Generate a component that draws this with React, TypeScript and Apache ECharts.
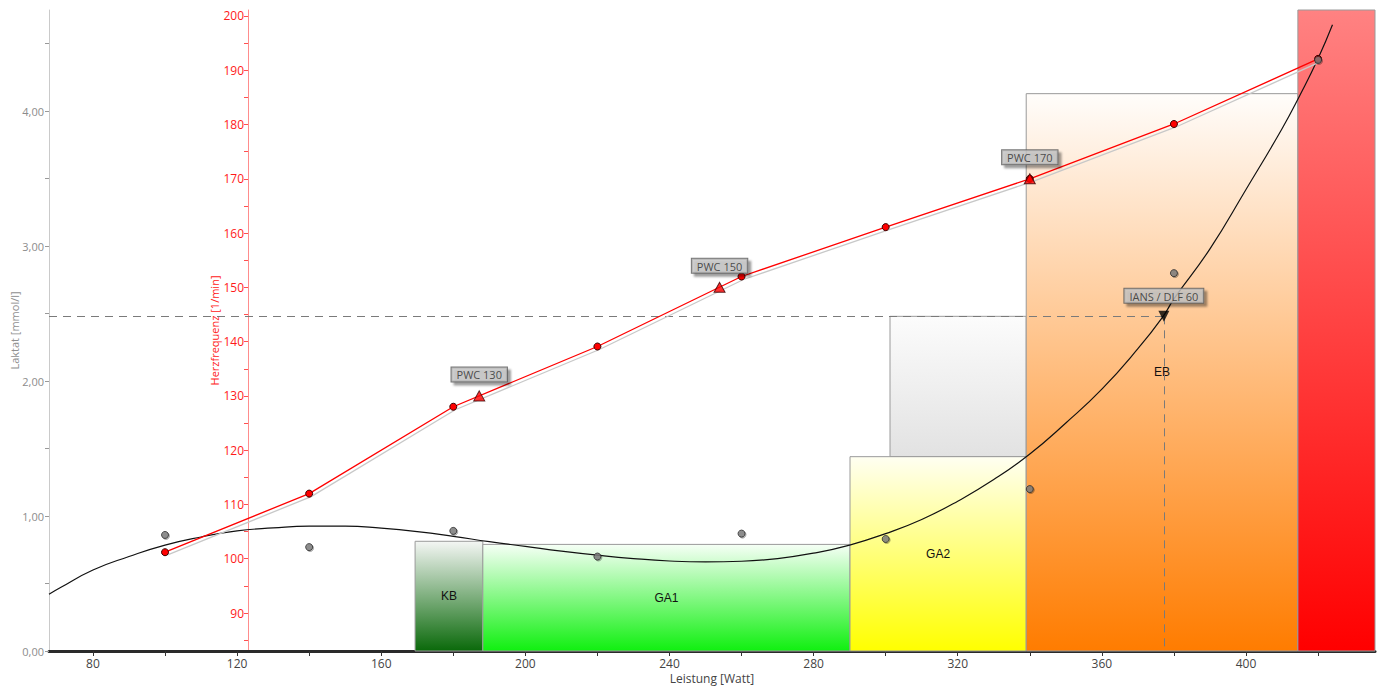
import React, { useEffect, useRef } from "react";
import * as echarts from "echarts";

// ---- data ----
const W_MIN = 67.8;
const W_MAX = 435.8;
const LACT_MAX = 4.75;
const HR_MIN = 83;
const HR_MAX = 201.1;

const xTickValues = [80, 100, 120, 140, 160, 180, 200, 220, 240, 260, 280, 300, 320, 340, 360, 380, 400, 420];
const xLabelValues = [80, 120, 160, 200, 240, 280, 320, 360, 400];
const lactTickValues = [0, 0.5, 1, 1.5, 2, 2.5, 3, 3.5, 4, 4.5];
const lactLabelValues = [0, 1, 2, 3, 4];
const hrTickValues = [85, 90, 95, 100, 105, 110, 115, 120, 125, 130, 135, 140, 145, 150, 155, 160, 165, 170, 175, 180, 185, 190, 195, 200];
const hrLabelValues = [90, 100, 110, 120, 130, 140, 150, 160, 170, 180, 190, 200];

const stepWatt = [100, 140, 180, 220, 260, 300, 340, 380, 420];
const heartRate = [101.2, 112.0, 128.0, 139.1, 152.0, 161.1, 170.0, 180.1, 192.1];
const lactateMeasured = [0.86, 0.77, 0.89, 0.7, 0.87, 0.83, 1.2, 2.8, 4.38];

const lactateCurveWatt = [67.8, 71, 80, 90, 100, 110, 120, 130, 140, 150, 160, 170, 180, 190, 200, 210, 220, 230, 240, 250, 260, 270, 280, 290, 300, 310, 320, 330, 340, 350, 360, 370, 377, 380, 390, 400, 410, 415, 420, 424];
const lactateCurveValues = [0.42, 0.47, 0.6, 0.7, 0.785, 0.845, 0.89, 0.912, 0.925, 0.925, 0.91, 0.885, 0.85, 0.81, 0.775, 0.74, 0.71, 0.685, 0.667, 0.66, 0.665, 0.685, 0.725, 0.785, 0.87, 0.975, 1.11, 1.27, 1.46, 1.69, 1.94, 2.24, 2.48, 2.61, 2.98, 3.42, 3.87, 4.12, 4.39, 4.64];

const pwcWatt = [187.2, 253.9, 340];
const pwcHeartRate = [130, 150, 170];
const pwcLabels = ["PWC 130", "PWC 150", "PWC 170"];

const iansWatt = 377.2;
const iansLactate = 2.48;
const iansLabel = "IANS / DLF 60";

const zoneNames = ["KB", "GA1", "", "GA2", "EB", ""];
const zoneStart = [169.4, 188.2, 301.2, 290.1, 339.0, 414.4];
const zoneEnd = [188.2, 290.1, 339.0, 339.0, 414.4, W_MAX];
const zoneBottom = [0, 0, 1.44, 0, 0, 0];
const zoneTop = [0.813, 0.79, 2.48, 1.44, 4.13, LACT_MAX];
const zoneTopColor = ["#f4f6f4", "#f6fff6", "#fcfcfc", "#fffff2", "#fffdfb", "#ff8282"];
const zoneBottomColor = ["#0a690a", "#10f010", "#e2e2e2", "#ffff00", "#ff7c00", "#ff0000"];

const AXIS_FONT = "'Open Sans', 'Noto Sans', sans-serif";
const ZONE_FONT = "'Liberation Sans', Arial, sans-serif";

export default function App() {
  const ref = useRef<HTMLDivElement>(null);

  useEffect(() => {
    if (!ref.current) return;
    const chart = echarts.init(ref.current, undefined, { renderer: "svg" });

    const zoneData = zoneNames.map((name, i) => [
      {
        name,
        xAxis: zoneStart[i],
        yAxis: zoneBottom[i],
        itemStyle: {
          opacity: 1,
          color: new echarts.graphic.LinearGradient(0, 0, 0, 1, [
            { offset: 0, color: zoneTopColor[i] },
            { offset: 1, color: zoneBottomColor[i] },
          ]),
          borderColor: "#9a9a9a",
          borderWidth: 1,
        },
      },
      { xAxis: zoneEnd[i], yAxis: zoneTop[i] },
    ]);

    const boxLabel = {
      show: true,
      position: "top",
      distance: 9,
      color: "#2a2a2a",
      fontSize: 11,
      fontFamily: AXIS_FONT,
      backgroundColor: "#c6c6c6",
      borderColor: "#555555",
      borderWidth: 1,
      padding: [2, 5, 1, 5],
      shadowColor: "rgba(0,0,0,0.45)",
      shadowOffsetX: 3,
      shadowOffsetY: 3,
      shadowBlur: 2,
    };

    chart.setOption({
      animation: false,
      grid: { left: 49, right: 5, top: 10, bottom: 37, containLabel: false, outerBoundsMode: "none" },
      xAxis: {
        type: "value",
        min: W_MIN,
        max: W_MAX,
        name: "Leistung [Watt]",
        nameLocation: "middle",
        nameGap: 21,
        nameMoveOverlap: false,
        nameTextStyle: { color: "#444", fontSize: 12, fontFamily: AXIS_FONT },
        axisLine: { show: true, onZero: false, lineStyle: { color: "#2a2a2a", width: 3 } },
        axisTick: { show: true, customValues: xTickValues, length: 5, lineStyle: { color: "#333" } },
        axisLabel: {
          customValues: xLabelValues,
          color: "#444",
          fontSize: 12,
          fontFamily: AXIS_FONT,
          margin: 6,
        },
        splitLine: { show: false },
      },
      yAxis: [
        {
          type: "value",
          min: 0,
          max: LACT_MAX,
          position: "left",
          name: "Laktat [mmol/l]",
          nameLocation: "middle",
          nameGap: 29,
          nameMoveOverlap: false,
          nameTextStyle: { color: "#909090", fontSize: 11, fontFamily: AXIS_FONT },
          axisLine: { show: true, lineStyle: { color: "#cacaca", width: 1 } },
          axisTick: { show: true, customValues: lactTickValues, length: 4, lineStyle: { color: "#999" } },
          axisLabel: {
            customValues: lactLabelValues,
            color: "#8c8c8c",
            fontSize: 11,
            fontFamily: AXIS_FONT,
            margin: 5,
            formatter: (v: number) => v.toFixed(2).replace(".", ","),
          },
          splitLine: { show: false },
        },
        {
          type: "value",
          min: HR_MIN,
          max: HR_MAX,
          position: "left",
          offset: -199,
          name: "Herzfrequenz [1/min]",
          nameLocation: "middle",
          nameGap: 28,
          nameMoveOverlap: false,
          nameTextStyle: { color: "#ff2020", fontSize: 11, fontFamily: AXIS_FONT },
          axisLine: { show: true, lineStyle: { color: "#ff8c8c", width: 1 } },
          axisTick: { show: true, customValues: hrTickValues, length: 4, lineStyle: { color: "#ff5050" } },
          axisLabel: {
            customValues: hrLabelValues,
            color: "#ff1a1a",
            fontSize: 12,
            fontFamily: AXIS_FONT,
            margin: 4,
          },
          splitLine: { show: false },
        },
      ],
      series: [
        {
          name: "zones",
          type: "line",
          xAxisIndex: 0,
          yAxisIndex: 0,
          data: [],
          z: 1,
          silent: true,
          markArea: {
            silent: true,
            z: 1,
            label: {
              show: true,
              position: "inside",
              color: "#111",
              fontSize: 12,
              fontFamily: ZONE_FONT,
            },
            data: zoneData,
          },
        },
        {
          name: "Laktatkurve",
          type: "line",
          xAxisIndex: 0,
          yAxisIndex: 0,
          smooth: true,
          symbol: "none",
          z: 3,
          lineStyle: { color: "#111", width: 1.2 },
          data: lactateCurveWatt.map((w, i) => [w, lactateCurveValues[i]]),
        },
        {
          name: "Herzfrequenz",
          type: "line",
          xAxisIndex: 0,
          yAxisIndex: 1,
          z: 4,
          symbol: "circle",
          symbolSize: 7,
          itemStyle: { color: "#ff0000", borderColor: "#3a0000", borderWidth: 1 },
          lineStyle: {
            color: "#ff0000",
            width: 1.3,
            shadowColor: "#c8c8c8",
            shadowOffsetX: 2,
            shadowOffsetY: 3,
            shadowBlur: 0,
          },
          data: stepWatt.map((w, i) => [w, heartRate[i]]),
        },
        {
          name: "Laktat",
          type: "scatter",
          xAxisIndex: 0,
          yAxisIndex: 0,
          z: 4,
          symbol: "circle",
          symbolSize: 7,
          itemStyle: {
            color: "#7d7d7d",
            borderColor: "#2a2a2a",
            borderWidth: 1,
            shadowColor: "rgba(0,0,0,0.35)",
            shadowOffsetX: 1,
            shadowOffsetY: 1,
            shadowBlur: 1,
          },
          data: stepWatt.map((w, i) => [w, lactateMeasured[i]]),
        },
        {
          name: "PWC",
          type: "scatter",
          xAxisIndex: 0,
          yAxisIndex: 1,
          z: 6,
          symbol: "triangle",
          symbolSize: [11, 10],
          itemStyle: { color: "#ff0000", borderColor: "#3a0000", borderWidth: 1 },
          label: { ...boxLabel, formatter: (p: any) => pwcLabels[p.dataIndex] },
          data: pwcWatt.map((w, i) => [w, pwcHeartRate[i]]),
        },
        {
          name: "IANS",
          type: "scatter",
          xAxisIndex: 0,
          yAxisIndex: 0,
          z: 6,
          symbol: "path://M0,0 L10,0 L5,10 Z",
          symbolSize: [11, 11],
          itemStyle: { color: "#000" },
          label: { ...boxLabel, distance: 8, formatter: () => iansLabel },
          data: [[iansWatt, iansLactate]],
          markLine: {
            silent: true,
            symbol: "none",
            z: 2,
            label: { show: false },
            lineStyle: { color: "#7a7a7a", type: [8, 6], width: 1 },
            data: [
              [{ coord: [W_MIN, iansLactate] }, { coord: [iansWatt, iansLactate] }],
              [{ coord: [iansWatt, iansLactate] }, { coord: [iansWatt, 0] }],
            ],
          },
        },
      ],
    });

    return () => chart.dispose();
  }, []);

  return (
    <div
      ref={ref}
      style={{ position: "fixed", left: 0, top: 0, width: 1380, height: 688, background: "#fff" }}
    />
  );
}
